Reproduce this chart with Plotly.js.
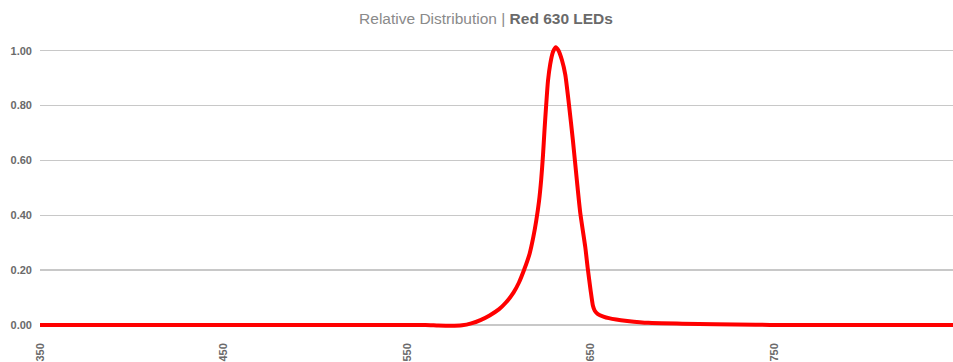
<!DOCTYPE html>
<html>
<head>
<meta charset="utf-8">
<script src="https://cdn.plot.ly/plotly-3.0.1.min.js"></script>
<style>html,body{margin:0;padding:0;background:#fff;}#chart{width:953px;height:362px;}</style>
</head>
<body>
<div id="chart"></div>
<script>
const wavelength = [350, 450, 520, 560, 567, 574, 580, 585, 590, 595, 600, 604, 608, 611, 614, 616.8, 618.8, 620.4, 621.9, 623.1, 624.1, 624.9, 625.8, 626.8, 628.0, 629.5, 631.0, 632.6, 634.4, 636.2, 638.2, 640.4, 642.5, 644.4, 647.1, 648.5, 650.0, 651.3, 652.3, 654, 657, 660, 664, 670, 681.5, 700, 718, 740, 754, 850];
const relative = [0, 0, 0, 0, -0.002, -0.003, -0.001, 0.006, 0.018, 0.035, 0.057, 0.083, 0.118, 0.155, 0.205, 0.26, 0.32, 0.38, 0.45, 0.53, 0.62, 0.71, 0.80, 0.89, 0.95, 0.995, 1.013, 1.0, 0.966, 0.914, 0.806, 0.672, 0.53, 0.408, 0.285, 0.205, 0.128, 0.07, 0.052, 0.04, 0.031, 0.025, 0.02, 0.015, 0.008, 0.005, 0.003, 0.001, 0, 0];
const xTicks = [350, 450, 550, 650, 750];
const yTicks = [0, 0.2, 0.4, 0.6, 0.8, 1.0];

const fontFam = '"Helvetica Neue", "Liberation Sans", Arial, sans-serif';

const trace = {
  x: wavelength,
  y: relative,
  type: 'scatter',
  mode: 'lines',
  line: {color: '#ff0000', width: 4, shape: 'spline', smoothing: 0.6},
  hoverinfo: 'x+y'
};

const layout = {
  width: 953,
  height: 362,
  margin: {l: 40, r: 0, t: 30, b: 34},
  paper_bgcolor: '#ffffff',
  plot_bgcolor: '#ffffff',
  showlegend: false,
  title: {
    text: '<span style="color:#8a8a8a">Relative Distribution | </span><b>Red 630 LEDs</b>',
    x: 0.51,
    xanchor: 'center',
    y: 0.95,
    yanchor: 'middle',
    font: {family: fontFam, size: 15.5, color: '#6a6a6a'}
  },
  xaxis: {
    range: [350, 847.5],
    tickvals: xTicks,
    ticktext: xTicks.map(String),
    tickangle: -90,
    ticklabelstandoff: 12,
    showgrid: false,
    zeroline: false,
    showline: false,
    ticks: '',
    tickfont: {family: fontFam, size: 11, color: '#6a6a6a', weight: 'bold'}
  },
  yaxis: {
    range: [-0.0109, 1.0755],
    tickvals: yTicks,
    tickformat: '.2f',
    ticklabelstandoff: 7,
    showgrid: true,
    gridcolor: '#c8c8c8',
    gridwidth: 1.5,
    zeroline: false,
    showline: false,
    ticks: '',
    tickfont: {family: fontFam, size: 11, color: '#6a6a6a', weight: 'bold'}
  }
};

Plotly.newPlot('chart', [trace], layout, {displayModeBar: false, staticPlot: true});
</script>
</body>
</html>
